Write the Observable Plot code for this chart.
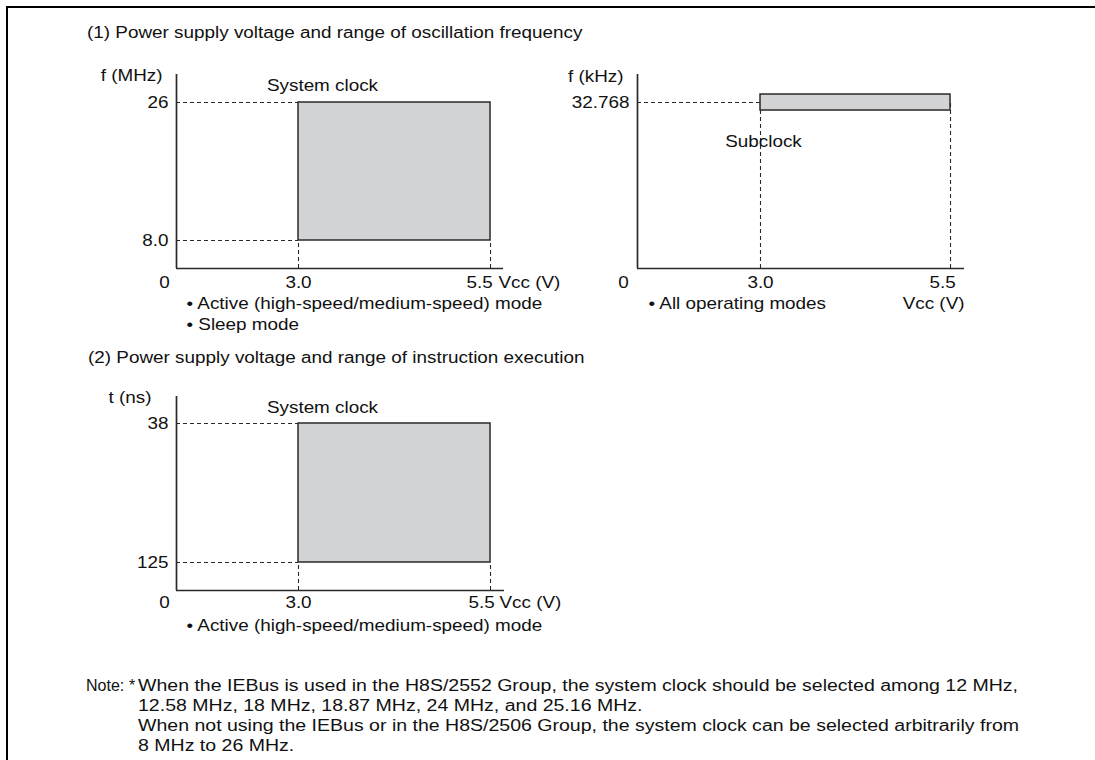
<!DOCTYPE html>
<html><head><meta charset="utf-8">
<script src="https://cdn.jsdelivr.net/npm/d3@7"></script>
<script src="https://cdn.jsdelivr.net/npm/@observablehq/plot@0.6"></script>
<style>
html,body{margin:0;padding:0;background:#fff;overflow:hidden;width:1095px;height:760px;}
#page{position:relative;width:1095px;height:760px;font-family:"Liberation Sans",Arial,Helvetica,sans-serif;font-size:16px;color:#111;}
#frameTop{position:absolute;left:6px;top:6px;width:1089px;height:2px;background:#000;}
#frameLeft{position:absolute;left:6px;top:6px;width:2px;height:754px;background:#000;}
.t{position:absolute;white-space:nowrap;line-height:20px;transform:scaleX(1.18);transform-origin:0 0;}
.n{transform:scaleX(1.22);}
.chart{position:absolute;}
</style></head><body><div id="page">
<div id="frameTop"></div><div id="frameLeft"></div>
<div class="t" style="left:87px;top:23px">(1) Power supply voltage and range of oscillation frequency</div>
<div class="t" style="left:88px;top:348px">(2) Power supply voltage and range of instruction execution</div>
<div class="t" style="left:86px;top:676px;transform:none">Note:</div>
<div class="t" style="left:129px;top:676px;transform:none">*</div>
<div class="t n" style="left:138px;top:676px">
<div>When the IEBus is used in the H8S/2552 Group, the system clock should be selected among 12 MHz,</div>
<div>12.58 MHz, 18 MHz, 18.87 MHz, 24 MHz, and 25.16 MHz.</div>
<div>When not using the IEBus or in the H8S/2506 Group, the system clock can be selected arbitrarily from</div>
<div>8 MHz to 26 MHz.</div>
</div>
</div>
<script>
// ---- data ----
const vccTicks = [3.0, 5.5];
const vccLabels = ["3.0", "5.5"];
const sysFreqTicks = [26, 8.0];
const sysFreqLabels = ["26", "8.0"];
const subFreqTicks = [32.768];
const subFreqLabels = ["32.768"];
const execTicks = [38, 125];
const execLabels = ["38", "125"];
const sysFreqBox = [{vMin: 3.0, vMax: 5.5, lo: 8.0, hi: 26}];
const subFreqBand = [{vMin: 3.0, vMax: 5.5, f: 32.768}];
const execBox = [{vMin: 3.0, vMax: 5.5, lo: 125, hi: 38}];

// ---- styles ----
const INK = "#111", LINE = "#2a2a2a", FILL = "#d2d3d5";
const DASH = {stroke: LINE, strokeWidth: 1.1, strokeDasharray: "4,3"};
const AX = {stroke: LINE, strokeWidth: 1.7};
const FONT = '"Liberation Sans", Arial, Helvetica, sans-serif';
const STRETCH = 1.18;

function stretch(svg) {
  svg.querySelectorAll("text").forEach(t => {
    let tr = t.getAttribute("transform") || "";
    const xa = t.getAttribute("x");
    if (xa != null && /^-?[\d.]+$/.test(xa) && +xa !== 0) {
      t.removeAttribute("x");
      tr += ` translate(${+xa},0)`;
    }
    t.setAttribute("transform", tr + ` scale(${STRETCH},1)`);
  });
}
function place(svg, left, top) {
  svg.classList.add("chart");
  svg.style.left = left + "px";
  svg.style.top = top + "px";
  stretch(svg);
  document.getElementById("page").appendChild(svg);
}
const baseStyle = {fontFamily: FONT, fontSize: "16px", color: INK, background: "transparent", overflow: "visible"};
const tx = (o) => ({fill: INK, stroke: null, ...o});

// ---- chart 1: system clock frequency ----
{
  const X = [1.4115, 5.669], Y = [4.348, 29.652];
  const svg = Plot.plot({
    width: 500, height: 290, marginLeft: 116, marginRight: 57, marginTop: 24, marginBottom: 72,
    x: {domain: X, axis: null}, y: {domain: Y, axis: null},
    style: baseStyle,
    marks: [
      Plot.ruleY(sysFreqTicks, {y: d => d, x1: X[0], x2: vccTicks[0], ...DASH}),
      Plot.ruleX(vccTicks, {x: d => d, y1: Y[0], y2: sysFreqBox[0].lo, ...DASH}),
      Plot.rect(sysFreqBox, {x1: "vMin", x2: "vMax", y1: "lo", y2: "hi", fill: FILL, stroke: LINE, strokeWidth: 1.5}),
      Plot.ruleX([X[0]], AX),
      Plot.ruleY([Y[0]], {...AX, x1: X[0], x2: X[1]}),
      Plot.text(sysFreqTicks, tx({x: X[0], y: d => d, text: (d, i) => sysFreqLabels[i], textAnchor: "end", dx: -8})),
      Plot.text(["f (MHz)"], tx({x: X[0], y: Y[1], text: d => d, textAnchor: "end", dx: -14, dy: 1})),
      Plot.text(["System clock"], tx({x: vccTicks[0], y: Y[1], text: d => d, dx: 24, dy: 11})),
      Plot.text(["0"], tx({x: X[0], y: Y[0], text: d => d, dx: -12, dy: 14})),
      Plot.text([vccTicks[0]], tx({x: d => d, y: Y[0], text: [vccLabels[0]], dy: 14})),
      Plot.text([vccTicks[1]], tx({x: d => d, y: Y[0], text: [vccLabels[1]], dy: 14, dx: -11})),
      Plot.text(["Vcc (V)"], tx({x: vccTicks[1], y: Y[0], text: d => d, textAnchor: "start", dx: 8, dy: 14})),
      Plot.text(["\u2022 Active (high-speed/medium-speed) mode"], tx({x: X[0], y: Y[0], text: d => d, textAnchor: "start", dx: 10, dy: 35})),
      Plot.text(["\u2022 Sleep mode"], tx({x: X[0], y: Y[0], text: d => d, textAnchor: "start", dx: 10, dy: 56}))
    ]
  });
  place(svg, 60, 50);
}

// ---- chart 2: subclock frequency ----
{
  const X = [1.3816, 5.684], Y = [0, 38.3];
  const svg = Plot.plot({
    width: 520, height: 290, marginLeft: 77, marginRight: 116, marginTop: 24, marginBottom: 72,
    x: {domain: X, axis: null}, y: {domain: Y, axis: null},
    style: baseStyle,
    marks: [
      Plot.ruleY(subFreqTicks, {y: d => d, x1: X[0], x2: vccTicks[0], ...DASH}),
      Plot.ruleX(vccTicks, {x: d => d, y1: Y[0], y2: subFreqBand[0].f, ...DASH}),
      Plot.rect(subFreqBand, {x1: "vMin", x2: "vMax", y1: "f", y2: "f", insetTop: -8, insetBottom: -8, fill: FILL, stroke: LINE, strokeWidth: 1.5}),
      Plot.ruleX([X[0]], AX),
      Plot.ruleY([Y[0]], {...AX, x1: X[0], x2: X[1]}),
      Plot.text(subFreqTicks, tx({x: X[0], y: d => d, text: (d, i) => subFreqLabels[i], textAnchor: "end", dx: -8})),
      Plot.text(["f (kHz)"], tx({x: X[0], y: Y[1], text: d => d, textAnchor: "end", dx: -14, dy: 2})),
      Plot.text(["Subclock"], tx({x: vccTicks[0], y: subFreqTicks[0], text: d => d, dx: 3, dy: 39})),
      Plot.text(["0"], tx({x: X[0], y: Y[0], text: d => d, dx: -14, dy: 14})),
      Plot.text([vccTicks[0]], tx({x: d => d, y: Y[0], text: [vccLabels[0]], dy: 14})),
      Plot.text([vccTicks[1]], tx({x: d => d, y: Y[0], text: [vccLabels[1]], dy: 14, dx: -8})),
      Plot.text(["Vcc (V)"], tx({x: X[1], y: Y[0], text: d => d, textAnchor: "end", dy: 35})),
      Plot.text(["\u2022 All operating modes"], tx({x: X[0], y: Y[0], text: d => d, textAnchor: "start", dx: 11, dy: 35}))
    ]
  });
  place(svg, 560, 50);
}

// ---- chart 3: instruction execution time ----
{
  const X = [1.4115, 5.682], Y = [142.53, 21.10];
  const svg = Plot.plot({
    width: 500, height: 280, marginLeft: 116, marginRight: 56, marginTop: 26, marginBottom: 60,
    x: {domain: X, axis: null}, y: {domain: Y, axis: null},
    style: baseStyle,
    marks: [
      Plot.ruleY(execTicks, {y: d => d, x1: X[0], x2: vccTicks[0], ...DASH}),
      Plot.ruleX(vccTicks, {x: d => d, y1: Y[0], y2: execBox[0].lo, ...DASH}),
      Plot.rect(execBox, {x1: "vMin", x2: "vMax", y1: "lo", y2: "hi", fill: FILL, stroke: LINE, strokeWidth: 1.5}),
      Plot.ruleX([X[0]], AX),
      Plot.ruleY([Y[0]], {...AX, x1: X[0], x2: X[1]}),
      Plot.text(execTicks, tx({x: X[0], y: d => d, text: (d, i) => execLabels[i], textAnchor: "end", dx: -8})),
      Plot.text(["t (ns)"], tx({x: X[0], y: Y[1], text: d => d, textAnchor: "end", dx: -25, dy: 1})),
      Plot.text(["System clock"], tx({x: vccTicks[0], y: Y[1], text: d => d, dx: 24, dy: 11})),
      Plot.text(["0"], tx({x: X[0], y: Y[0], text: d => d, dx: -12, dy: 12})),
      Plot.text([vccTicks[0]], tx({x: d => d, y: Y[0], text: [vccLabels[0]], dy: 12})),
      Plot.text([vccTicks[1]], tx({x: d => d, y: Y[0], text: [vccLabels[1]], dy: 12, dx: -9})),
      Plot.text(["Vcc (V)"], tx({x: vccTicks[1], y: Y[0], text: d => d, textAnchor: "start", dx: 9, dy: 12})),
      Plot.text(["\u2022 Active (high-speed/medium-speed) mode"], tx({x: X[0], y: Y[0], text: d => d, textAnchor: "start", dx: 10, dy: 35}))
    ]
  });
  place(svg, 60, 370);
}
</script>
</body></html>
